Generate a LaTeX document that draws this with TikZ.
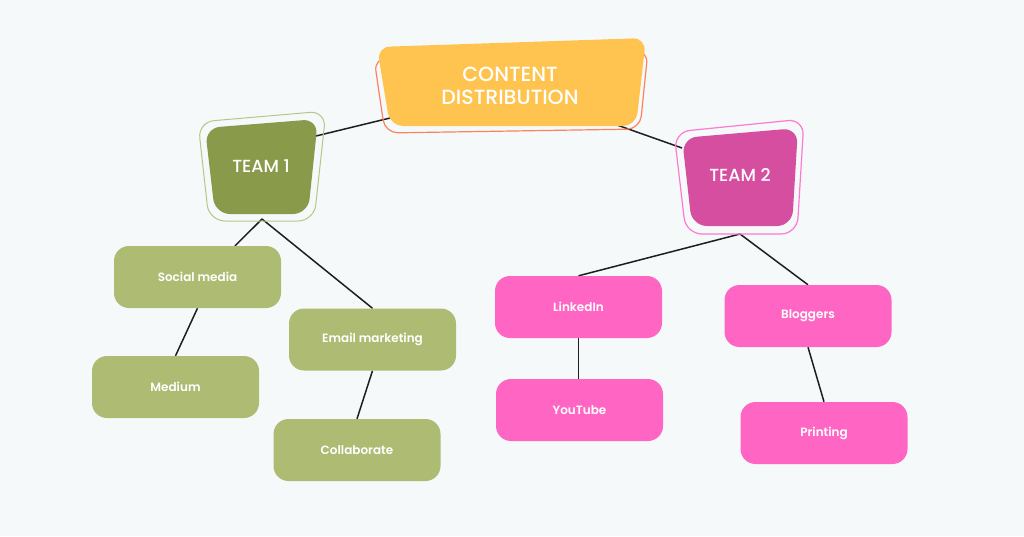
\documentclass[tikz,border=0pt]{standalone}
\usepackage{fontspec}
\setmainfont{Poppins}[BoldFont={* SemiBold}]
\newfontfamily\medfont{Poppins}[UprightFont={* Medium}]
\pgfdeclarelayer{back}
\pgfdeclarelayer{bg}
\pgfsetlayers{back,bg,main}
\definecolor{bgc}{RGB}{245,249,250}
\definecolor{greenbox}{RGB}{174,187,115}
\definecolor{teamgreen}{RGB}{138,154,75}
\definecolor{teamgreenline}{RGB}{184,198,132}
\definecolor{yel}{RGB}{255,196,80}
\definecolor{orangeline}{RGB}{255,128,96}
\definecolor{teampink}{RGB}{214,78,160}
\definecolor{teampinkline}{RGB}{255,120,210}
\definecolor{pinkbox}{RGB}{255,102,196}
\definecolor{linec}{RGB}{30,30,30}
\tikzset{
  leaf/.style={draw=none, rounded corners=15pt, minimum width=167pt, minimum height=62pt, inner sep=0pt, text=white, font=\fontsize{12}{14}\selectfont\bfseries},
  gleaf/.style={leaf, fill=greenbox},
  pleaf/.style={leaf, fill=pinkbox},
  conn/.style={draw=linec, line width=1.5pt},
  lbl/.style={text=white, inner sep=0pt, align=center}
}
\begin{document}
\begin{tikzpicture}[x=1pt,y=-1pt]
\begin{pgfonlayer}{back}
\fill[bgc] (0,0) rectangle (1024,536);
\end{pgfonlayer}
\useasboundingbox (0,0) rectangle (1024,536);

% Content distribution
\draw[orangeline, line width=1.2pt, rounded corners=13pt] (374,58) -- (648,50) -- (640,129) -- (385,133) -- cycle;
\fill[yel, rounded corners=13pt] (377,47) -- (646,38) -- (636,126) -- (390,126) -- cycle;
\node[lbl, font=\fontsize{20.5}{22.5}\medfont] (content) at (510,86) {CONTENT\\DISTRIBUTION};

% Team 1
\draw[teamgreenline, line width=1pt, rounded corners=16pt] (198,122) -- (326,111) -- (314,221) -- (209,221) -- cycle;
\fill[teamgreen, rounded corners=15pt] (205,128) -- (318,119) -- (308,214) -- (215,214) -- cycle;
\node[lbl, font=\fontsize{17.5}{20}\medfont] (team1) at (261,166) {TEAM 1};

% Team 2
\draw[teampinkline, line width=1.2pt, rounded corners=16pt] (674,132) -- (804,119) -- (797,234) -- (686,234) -- cycle;
\fill[teampink, rounded corners=15pt] (682,138) -- (798,128) -- (792,226) -- (692,226) -- cycle;
\node[lbl, font=\fontsize{17.5}{20}\medfont] (team2) at (740,175) {TEAM 2};

% Leaves
\node[gleaf] (social) at (197.5,277) {Social media};
\node[gleaf] (medium) at (175.5,387) {Medium};
\node[gleaf] (email) at (372.5,339.5) {Email marketing};
\node[gleaf] (collab) at (357,450) {Collaborate};
\node[pleaf] (linkedin) at (578.5,307) {LinkedIn};
\node[pleaf] (youtube) at (579.5,410) {YouTube};
\node[pleaf] (bloggers) at (808,316) {Bloggers};
\node[pleaf] (printing) at (824,433) {Printing};

\begin{pgfonlayer}{bg}
\draw[conn] ([shift={(-120,32)}]content.center) -- ([shift={(55,-30)}]team1.center);
\draw[conn] ([shift={(107,39)}]content.center) -- ([shift={(-58,-27)}]team2.center);
\draw[conn] ([shift={(1,53)}]team1.center) -- ([shift={(37.5,0)}]social.north);
\draw[conn] ([shift={(1,53)}]team1.center) -- (email.north);
\draw[conn] (social.south) -- (medium.north);
\draw[conn] (email.south) -- (collab.north);
\draw[conn] ([shift={(0,59)}]team2.center) -- (linkedin.north);
\draw[conn] ([shift={(0,59)}]team2.center) -- (bloggers.north);
\draw[conn] (linkedin.south) -- ([shift={(-1,0)}]youtube.north);
\draw[conn] (bloggers.south) -- (printing.north);
\end{pgfonlayer}
\end{tikzpicture}
\end{document}
